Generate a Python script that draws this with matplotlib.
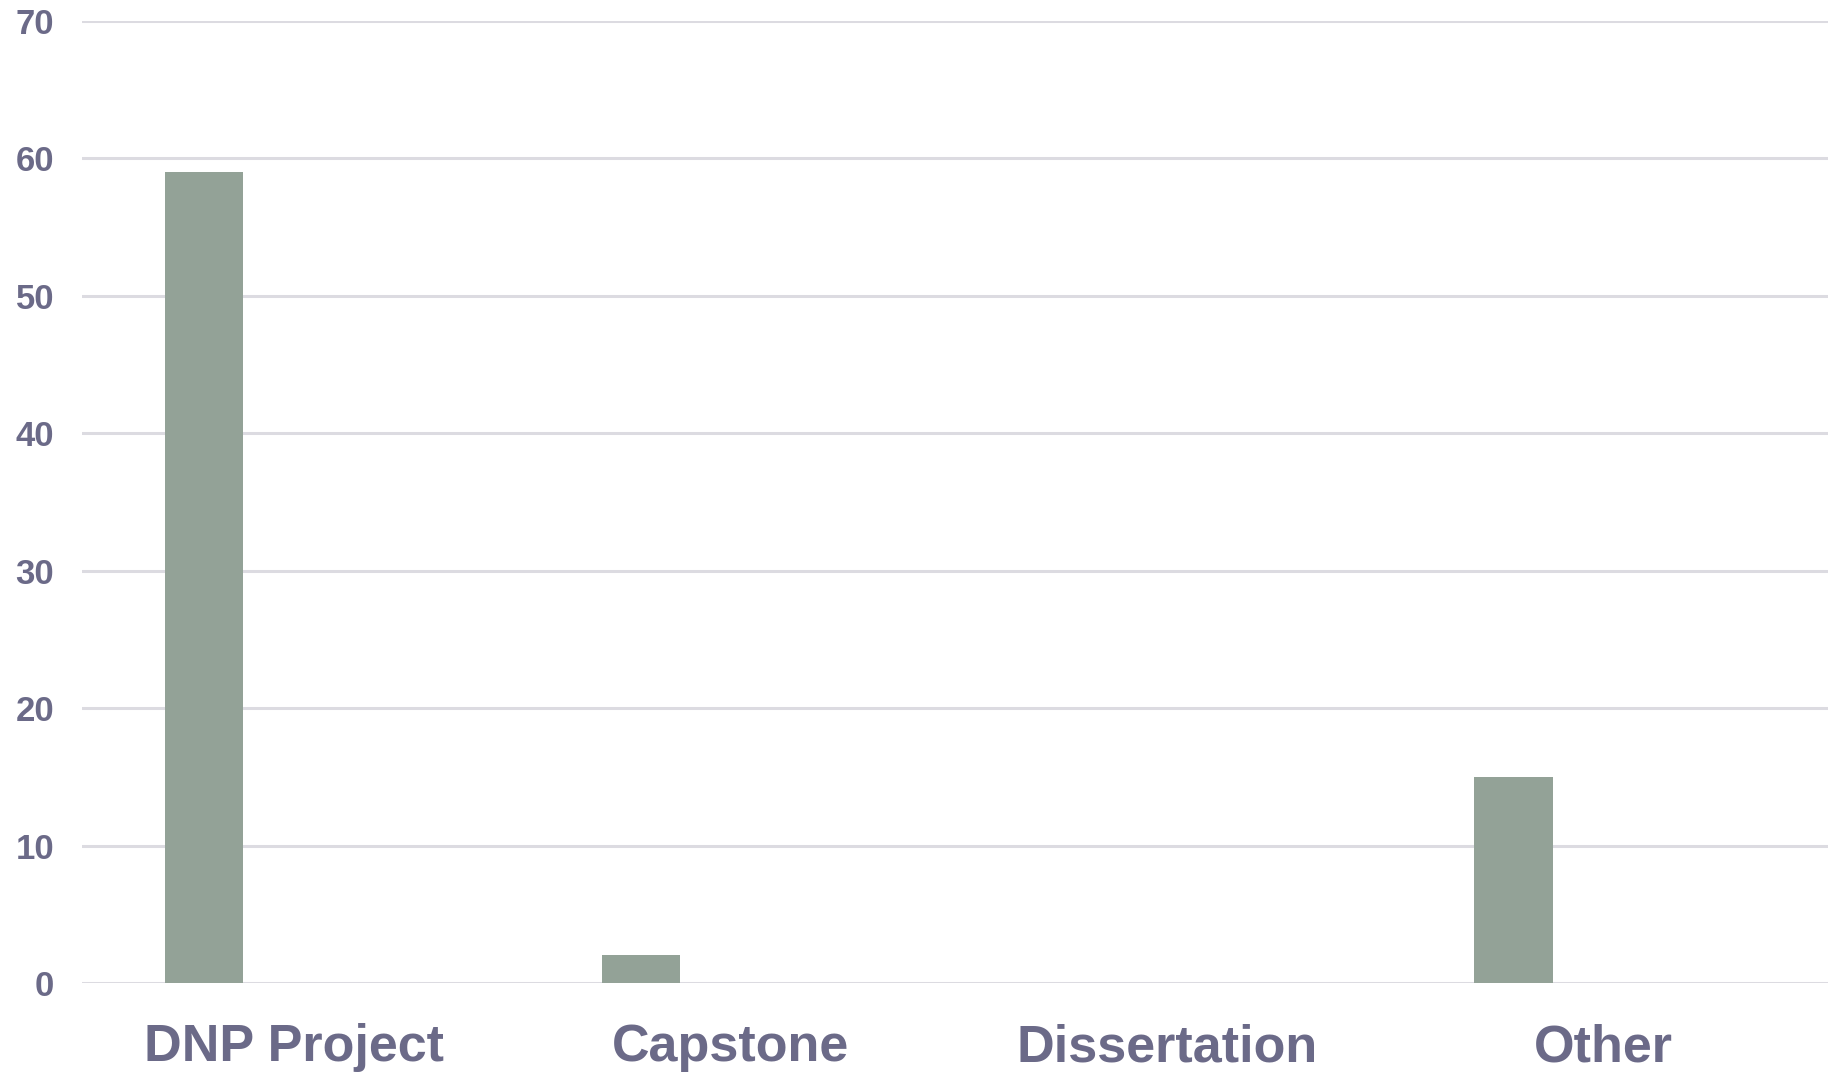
import numpy as np
import matplotlib
matplotlib.use("Agg")
import matplotlib.pyplot as plt
import matplotlib.transforms as mtransforms

categories = ["DNP Project", "Capstone", "Dissertation", "Other"]
counts = [59, 2, 0, 15]
yticks = [0, 10, 20, 30, 40, 50, 60, 70]

TXT = "#6b6a88"
BAR = "#93a297"
GRID = "#dcdbe1"

plt.rcParams.update({"font.family": ["Liberation Sans", "DejaVu Sans"], "font.weight": "bold"})

fig = plt.figure(figsize=(18.37, 10.73), dpi=100)
ax = fig.add_axes([0.0446, 0.0839, 0.9504, 0.8965])

x = np.arange(len(categories))
ax.bar(x - 0.22, counts, width=0.179, color=BAR, zorder=3)

ax.set_xlim(-0.5, len(categories) - 0.5)
ax.set_ylim(0, 70)
ax.set_yticks(yticks)
ax.set_xticks(x)
ax.set_xticklabels(categories, fontsize=37.5, color=TXT, fontweight="bold")
ax.set_yticklabels([str(v) for v in yticks], fontsize=25, color=TXT, fontweight="bold")
ax.tick_params(axis="both", length=0)
ax.tick_params(axis="y", pad=20)
ax.tick_params(axis="x", pad=29)

# labels sit a touch left of the category centre
shift = mtransforms.ScaledTranslation(-6 / 100, 0, fig.dpi_scale_trans)
for lab in ax.get_xticklabels():
    lab.set_transform(lab.get_transform() + shift)

ax.yaxis.grid(True, color=GRID, lw=2.2, zorder=0)
for s in ax.spines.values():
    s.set_visible(False)

fig.savefig("out.png", dpi=100)
